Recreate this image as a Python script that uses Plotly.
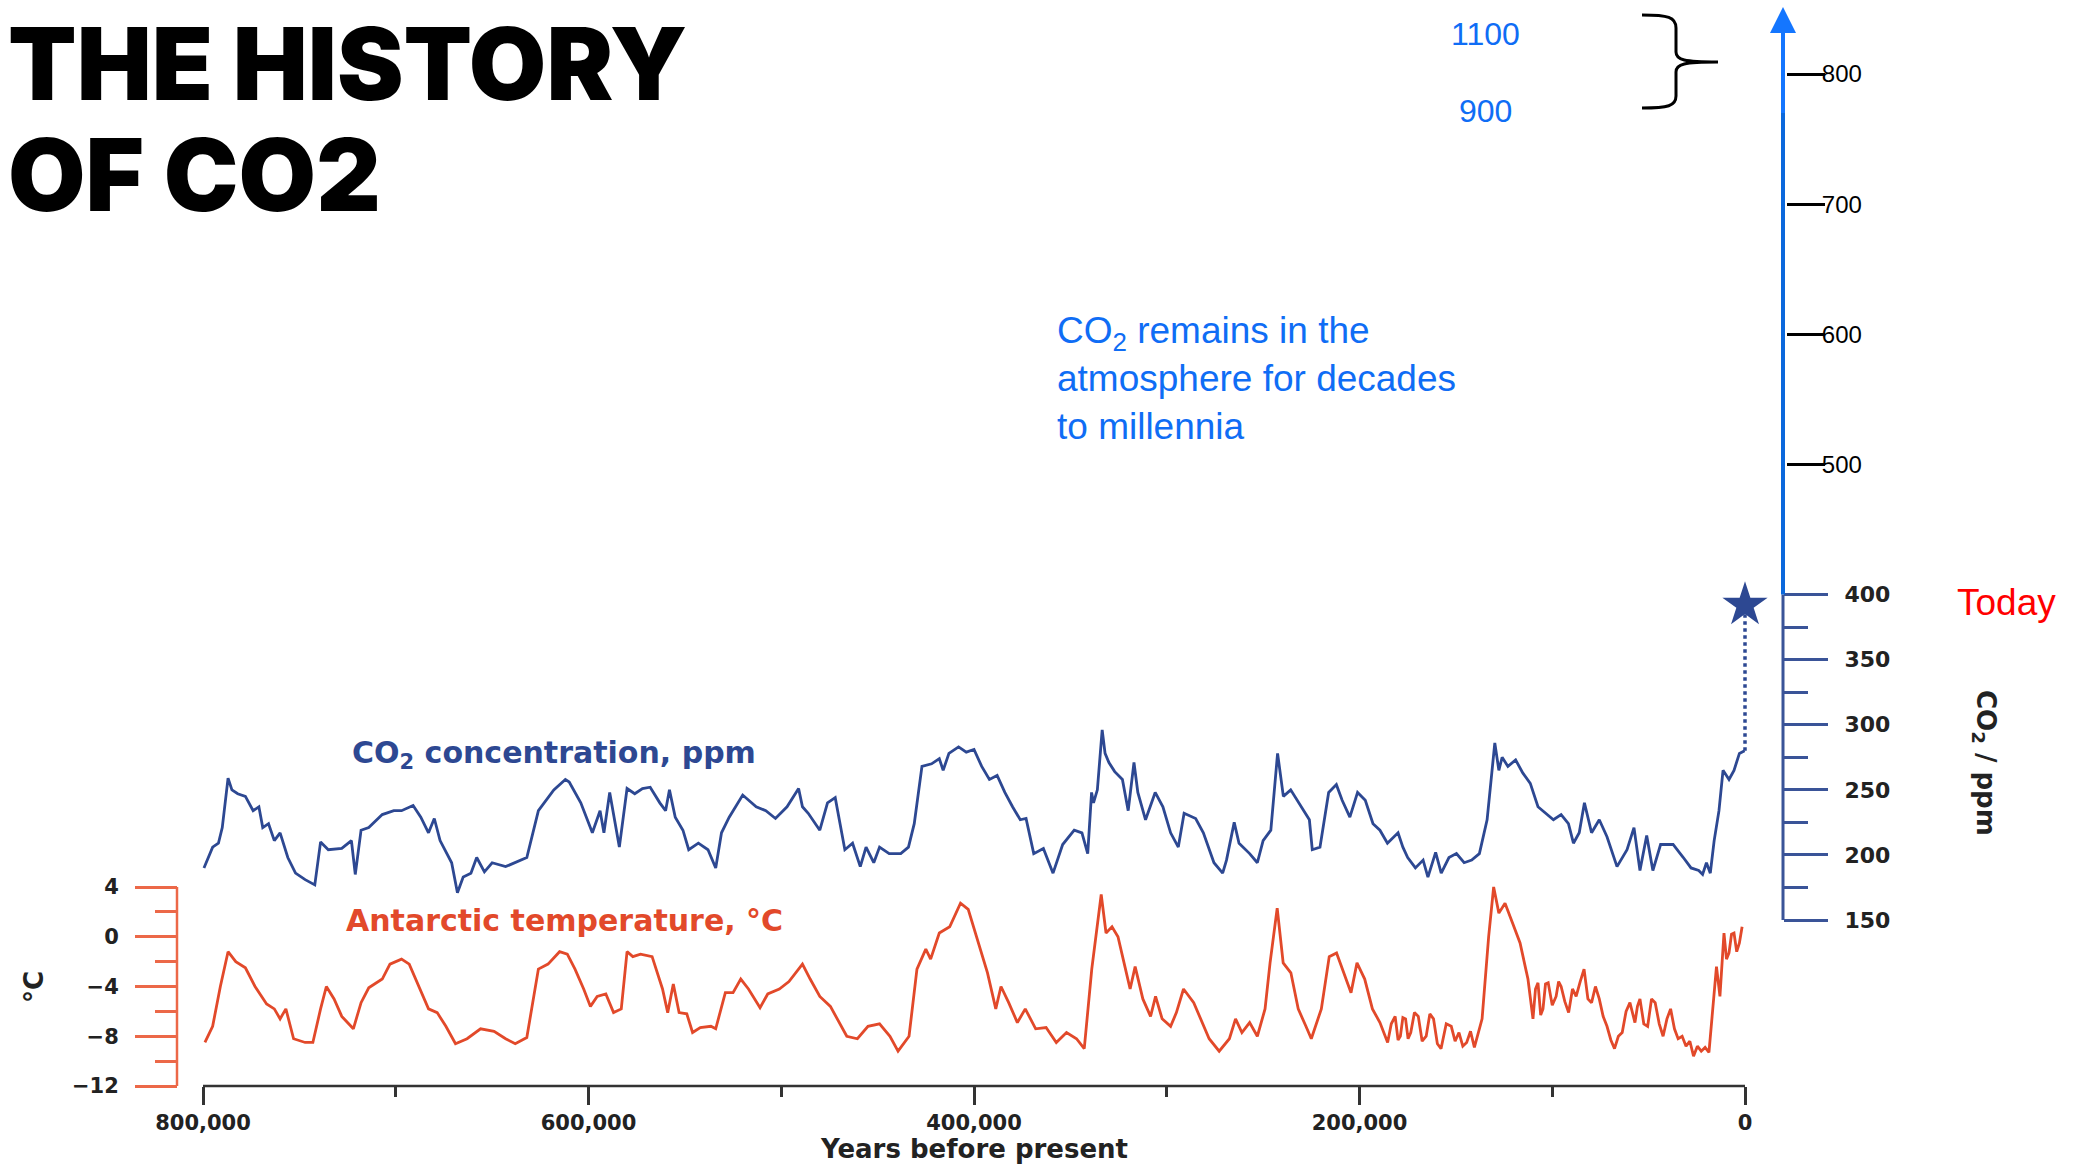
import plotly.graph_objects as go

W, H = 2078, 1164

# ---------------- data ----------------
co2_kyr = [799.5, 795, 792, 790, 787, 785, 782, 778, 774, 771, 769, 766, 763, 760, 756, 752, 747, 742,
           739, 735, 728, 723, 721, 718, 714, 707, 701, 697, 691, 687, 683, 680, 677, 671, 668, 665,
           661, 658, 654, 650, 643, 638, 632, 626, 618, 612, 610, 604, 598, 594, 592, 589, 584, 580,
           576, 572, 568, 563, 560, 558, 555, 551, 548, 543, 538, 534, 531, 527, 520, 513, 508, 503,
           497, 491, 489, 486, 480, 476, 472, 467, 463, 459, 456, 452, 449, 444, 438, 434, 431, 427,
           422, 418, 416, 413, 408, 404, 400, 396, 392, 388, 384, 380, 376, 373, 369, 364, 359, 354,
           348, 344, 341, 339, 338, 336, 333.5, 332, 330, 327, 323, 320, 317, 315, 311, 306, 302, 298,
           294, 291, 285, 281, 275.5, 271, 269, 265, 262.5, 257, 253, 250, 246, 242.5, 239.5, 235.7,
           230.3, 226, 224.5, 220.5, 216, 212, 209, 205, 201, 197, 193, 189.4, 185.5, 180, 177.5, 175,
           171, 167, 164.5, 160.5, 157.6, 153.6, 149.7, 145.7, 141.8, 137.8, 133.8, 131, 129.8, 127.7,
           126, 123, 119, 115.3, 111.4, 107.4, 103.4, 99.4, 95.4, 91.6, 89, 86, 83.3, 79.6, 75.6, 71.6,
           66.4, 61.2, 57.6, 54.5, 51, 47.8, 43.8, 37.3, 32, 28, 24, 22, 20, 18, 16, 13.5, 11.4, 8.3,
           5.7, 2.9, 0.2]
co2_ppm = [190, 206, 209, 221, 259, 250, 247, 245, 234, 237, 221, 224, 211, 217, 198, 186, 181, 177,
           210, 204, 205, 211, 185, 219, 221, 231, 234, 234, 238, 229, 217, 228, 211, 194, 171, 183,
           186, 198, 187, 194, 191, 194, 198, 234, 250, 258, 256, 240, 217, 234, 217, 248, 206, 251,
           247, 251, 252, 240, 234, 250, 229, 219, 204, 209, 204, 190, 217, 229, 246, 237, 234, 228,
           237, 251, 237, 232, 219, 240, 244, 204, 209, 191, 206, 194, 206, 201, 201, 206, 224, 268,
           270, 274, 265, 278, 283, 279, 281, 268, 258, 261, 248, 237, 227, 228, 201, 205, 186, 208,
           219, 217, 201, 248, 240, 250, 296, 278, 271, 264, 258, 234, 271, 248, 227, 248, 237, 217,
           206, 232, 228, 217, 194, 186, 196, 225, 209, 201, 194, 211, 219, 278, 245, 250,
           237, 227, 204, 206, 248, 254, 242, 229, 248, 242, 224, 219, 209, 217, 206, 198,
           190, 196, 183, 202, 186, 198, 201, 194, 196, 201, 227, 268, 286, 265,
           275, 268, 273, 263, 255, 237, 232, 227, 231, 224, 209, 217, 240, 217, 227, 214,
           191, 204, 221, 188, 215, 188, 208, 208, 198, 190, 188, 185, 194, 186, 211, 234, 265, 258,
           265, 278, 280]

temp_kyr = [799, 795, 791, 787, 783, 778, 773, 767, 763, 760, 757, 753, 747, 743, 739, 736, 732, 728,
            722, 718, 714, 707, 703, 697, 693, 688.5, 683, 678.5, 674, 669, 663, 656, 649, 643, 638,
            632, 626, 621, 615, 611, 607, 602.5, 599, 595.5, 591, 587, 583, 580, 577, 573, 567, 561.6,
            558.9, 556, 553, 549, 546, 542, 536.5, 534, 529, 525, 521, 517, 511, 507, 501, 496, 489,
            485, 480, 474.5, 470, 466, 460.5, 455, 449, 443.6, 439.4, 433.7, 429.6, 425, 422.5, 418,
            412.6, 407, 403, 398.6, 393, 388.7, 386, 382, 377.5, 373.4, 368, 362.6, 357.3, 352, 346.8,
            342.8, 338.9, 334, 331.5, 328.4, 325.3, 321.7, 319, 316.4, 312.4, 308.4, 305.8, 302.4, 298,
            295, 291.3, 286, 278, 272.8, 267.5, 264.3, 261, 257, 253, 249, 246.4, 242.7, 239.6, 235.6,
            231.8, 227.8, 225, 219.8, 215.7, 211.9, 208.7, 204.4, 201.3, 197.3, 193.3, 189.4, 185.4,
            183.5, 181.5, 180, 178.8, 177.5, 176.1, 174.8, 173.4, 171.5, 169.5, 167.5, 165.4, 163.5,
            161.6, 159.6, 157.7, 155, 152.4, 150.4, 148.4, 146.4, 144.4, 142.4, 140.4, 136.4,
            133, 130.4, 127.7, 124.5, 120.6, 116.7, 112.6, 110, 108.7, 107.4, 106, 104.8, 103.5, 102.1,
            100, 98, 96.7, 95.4, 93.5, 91.5, 89.5, 87.6, 85.5, 83.5, 81.5, 79.6, 77.6, 75.6, 73.6, 71.6,
            69.6, 67.7, 65.7, 63.7, 61.7, 59.7, 57.1, 55.8, 54.5, 52.5, 50.5, 48.5, 46.6, 44.5, 42.5,
            40.5, 38.6, 36.6, 34.7, 32.6, 30.6, 28.6, 26.7, 24.7, 22.7, 20.7, 18.7, 16.6, 14.8, 13,
            10.9, 9.6, 8.3, 7, 5.7, 4.3, 2.9, 1.5]
temp_c = [-8.5, -7.2, -4.0, -1.2, -2.0, -2.5, -4.0, -5.4, -5.8, -6.6, -5.8, -8.2, -8.5, -8.5, -5.8,
          -4.0, -5.0, -6.4, -7.4, -5.3, -4.1, -3.4, -2.2, -1.8, -2.2, -3.8, -5.8, -6.1, -7.2, -8.6,
          -8.2, -7.4, -7.6, -8.2, -8.6, -8.1, -2.6, -2.2, -1.2, -1.4, -2.6, -4.2, -5.6, -4.8, -4.6,
          -6.1, -5.8, -1.2, -1.6, -1.4, -1.6, -4.2, -6.1, -3.8, -6.1, -6.2, -7.7, -7.3, -7.2, -7.4,
          -4.5, -4.5, -3.4, -4.2, -5.7, -4.6, -4.2, -3.6, -2.2, -3.4, -4.8, -5.6, -6.9, -8.0, -8.2,
          -7.2, -7.0, -8.0, -9.2, -8.0, -2.6, -1.0, -1.8, 0.3, 0.8, 2.7, 2.2, 0.0, -2.9, -5.8, -4.0,
          -5.3, -6.9, -5.8, -7.4, -7.3, -8.5, -7.7, -8.2, -9.0, -2.6, 3.4, 0.3, 0.8, 0.0, -2.4, -4.2,
          -2.4, -5.0, -6.4, -4.8, -6.6, -7.2, -6.1, -4.2, -5.3, -8.2, -9.2, -8.2, -6.6, -7.7, -6.9,
          -8.0, -5.8, -2.1, 2.3, -2.1, -2.9, -5.8, -7.2, -8.2, -5.8, -1.6, -1.3, -2.6, -4.5, -2.1,
          -3.4, -5.8, -6.9, -8.5,
          -7.0, -6.4, -8.3, -8.0, -6.5, -6.6, -8.2, -7.7, -6.1, -6.4, -8.4, -8.0, -6.2,
          -6.6, -8.6, -9.0, -7.0, -7.2, -8.4, -7.7, -8.8, -8.5, -7.6, -8.9, -6.6,
          0.0, 4.0, 1.9, 2.7, 1.1, -0.5, -3.4, -6.6, -4.2, -3.7, -6.3, -5.8, -3.8, -3.7,
          -5.5, -4.8, -3.6, -4.0, -5.2, -6.1, -4.2, -4.8, -3.6, -2.6, -5.0, -5.3, -4.0, -5.0, -6.4, -7.2,
          -8.3, -9.0, -8.0, -7.7, -6.0, -5.3, -6.9, -5.6, -5.0, -7.0, -7.2, -5.0, -5.3, -7.0, -8.0,
          -6.6, -5.8, -7.4, -8.2, -8.0, -8.8, -8.4, -9.6, -8.8, -9.2, -8.9, -9.3, -5.8, -2.4, -4.8,
          0.3, -1.8, -1.3, 0.2, 0.3, -1.2, -0.5, 0.8]

x_tickvals = [800000, 600000, 400000, 200000, 0]
x_ticktext = ["800,000", "600,000", "400,000", "200,000", "0"]
x_minor = [700000, 500000, 300000, 100000]
co2_tickvals = [150, 200, 250, 300, 350, 400]
co2_minor = [175, 225, 275, 325, 375]
future_tickvals = [500, 600, 700, 800]
temp_tickvals = [4, 0, -4, -8, -12]
temp_minor = [2, -2, -6, -10]
today_co2 = 392
projection_high, projection_low = "1100", "900"

# ---------------- layout geometry (pixels) ----------------
X800_PX, X0_PX = 203, 1745
ppy = (X0_PX - X800_PX) / 800000.0
x_range = [800000 + X800_PX / ppy, -(W - X0_PX) / ppy]

T4_PX, TM12_PX = 887, 1086
ppd = (TM12_PX - T4_PX) / 16.0
t_range = [-12 - (H - TM12_PX) / ppd, 4 + T4_PX / ppd]

C150_PX, C800_PX = 920, 74
ppc = (C150_PX - C800_PX) / 650.0
c_range = [150 - (H - C150_PX) / ppc, 800 + C800_PX / ppc]

def px(x):
    return x / W

def py(y):
    return 1 - y / H

TEMP_AX_X = 177
CO2_AX_X = 1783
XAX_Y = 1086

NAVY = "#2d4892"
NAVY_AX = "#3a5498"
RED = "#e2492a"
RED_AX = "#ec6848"
BLUE = "#0f6df5"
BOLD = "DejaVu Sans"

fig = go.Figure()

fig.add_trace(go.Scatter(x=[k * 1000 for k in temp_kyr], y=temp_c, mode="lines",
                         line=dict(color=RED, width=2.8), xaxis="x", yaxis="y",
                         showlegend=False, hoverinfo="skip"))
fig.add_trace(go.Scatter(x=[k * 1000 for k in co2_kyr], y=co2_ppm, mode="lines",
                         line=dict(color=NAVY, width=2.8), xaxis="x", yaxis="y2",
                         showlegend=False, hoverinfo="skip"))
fig.add_trace(go.Scatter(x=[0, 0], y=[co2_ppm[-1], today_co2], mode="lines",
                         line=dict(color=NAVY, width=3.5, dash="dot"), xaxis="x", yaxis="y2",
                         showlegend=False, hoverinfo="skip"))
fig.add_trace(go.Scatter(x=[0], y=[today_co2], mode="markers",
                         marker=dict(symbol="star", size=34, color=NAVY, line=dict(width=0)),
                         xaxis="x", yaxis="y2", showlegend=False, hoverinfo="skip"))

shapes = []
shapes.append(dict(type="line", xref="x", yref="paper", x0=800000, x1=0, y0=py(XAX_Y), y1=py(XAX_Y),
                   line=dict(color="#333333", width=2.5)))
shapes.append(dict(type="line", xref="paper", yref="y", x0=px(TEMP_AX_X), x1=px(TEMP_AX_X), y0=-12, y1=4,
                   line=dict(color=RED_AX, width=2.5)))
shapes.append(dict(type="line", xref="paper", yref="y2", x0=px(CO2_AX_X), x1=px(CO2_AX_X), y0=150, y1=400,
                   line=dict(color=NAVY_AX, width=3)))
ARROW_MID = 150 + (C150_PX - 113) / ppc
TIP = 150 + (C150_PX - 7) / ppc
BASE = 150 + (C150_PX - 33) / ppc
shapes.append(dict(type="line", xref="paper", yref="y2", x0=px(CO2_AX_X), x1=px(CO2_AX_X), y0=400, y1=ARROW_MID,
                   line=dict(color="#0b68dc", width=4)))
shapes.append(dict(type="line", xref="paper", yref="y2", x0=px(CO2_AX_X), x1=px(CO2_AX_X), y0=ARROW_MID, y1=BASE,
                   line=dict(color="#1476ff", width=4)))
shapes.append(dict(type="path", xref="paper", yref="y2",
                   path=f"M {px(CO2_AX_X-13)} {BASE} L {px(CO2_AX_X)} {TIP} L {px(CO2_AX_X+13)} {BASE} Z",
                   fillcolor="#1476ff", line=dict(width=0)))
bpath = (f"M {px(1642)} {py(15)} C {px(1668)} {py(15)} {px(1676)} {py(17)} {px(1676)} {py(28)} "
         f"L {px(1676)} {py(52)} C {px(1676)} {py(60)} {px(1684)} {py(62)} {px(1718)} {py(62)} "
         f"M {px(1718)} {py(62)} C {px(1684)} {py(62)} {px(1676)} {py(64)} {px(1676)} {py(72)} "
         f"L {px(1676)} {py(96)} C {px(1676)} {py(106)} {px(1668)} {py(108)} {px(1642)} {py(108)}")
shapes.append(dict(type="path", xref="paper", yref="paper", path=bpath, line=dict(color="black", width=3)))

ann = []
def add_text(text, x, y, size, color, family="Liberation Sans", weight="normal", xanchor="center",
             yanchor="middle", angle=0, align="center"):
    ann.append(dict(text=text, x=px(x), y=py(y), xref="paper", yref="paper", showarrow=False,
                    xanchor=xanchor, yanchor=yanchor, textangle=angle, align=align,
                    font=dict(size=size, color=color, family=family, weight=weight)))

add_text("THE HISTORY", 6, 63, 100, "black", family="Inter", weight=900, xanchor="left")
add_text("OF CO2", 6, 174, 100, "black", family="Inter", weight=900, xanchor="left")
add_text(projection_high, 1485, 34, 32, BLUE)
add_text(projection_low, 1485, 111, 32, BLUE)
add_text("CO<sub>2</sub> remains in the<br>atmosphere for decades<br>to millennia", 1055, 379, 37, BLUE,
         xanchor="left", align="left")
add_text("Today", 2006, 602, 37, "#ff0000")
add_text("CO<sub>2</sub> concentration, ppm", 554, 754, 30, NAVY, family=BOLD, weight="bold")
add_text("Antarctic temperature, °C", 564, 920, 30, RED, family=BOLD, weight="bold")
add_text("°C", 34, 987, 26, "#222222", family=BOLD, weight="bold", angle=-90)
add_text("CO<sub>2</sub> / ppm", 1985, 763, 26, "#222222", family=BOLD, weight="bold", angle=90)
add_text("Years before present", 974, 1149, 26, "#222222", family=BOLD, weight="bold")

fig.update_layout(
    width=W, height=H,
    margin=dict(l=0, r=0, t=0, b=0),
    paper_bgcolor="white", plot_bgcolor="rgba(0,0,0,0)",
    showlegend=False,
    shapes=shapes, annotations=ann,
    xaxis=dict(domain=[0, 1], range=x_range, anchor="free", position=py(XAX_Y), side="bottom",
               showgrid=False, zeroline=False, showline=False,
               tickmode="array", tickvals=x_tickvals, ticktext=x_ticktext,
               ticks="outside", ticklen=18, tickwidth=3, tickcolor="#333333",
               ticklabelstandoff=0,
               tickfont=dict(family=BOLD, size=21, color="#222222", weight="bold"),
               minor=dict(tickmode="array", tickvals=x_minor, ticks="outside", ticklen=10,
                          tickwidth=3, tickcolor="#333333", showgrid=False)),
    yaxis=dict(domain=[0, 1], range=t_range, anchor="free", position=px(TEMP_AX_X), side="left",
               showgrid=False, zeroline=False, showline=False,
               tickmode="array", tickvals=temp_tickvals,
               ticks="outside", ticklen=42, tickwidth=2.5, tickcolor=RED_AX,
               ticklabelstandoff=12,
               tickfont=dict(family=BOLD, size=21, color="#222222", weight="bold"),
               minor=dict(tickmode="array", tickvals=temp_minor, ticks="outside", ticklen=22,
                          tickwidth=2.5, tickcolor=RED_AX, showgrid=False)),
    yaxis2=dict(domain=[0, 1], range=c_range, overlaying="y", anchor="free", position=px(CO2_AX_X),
                side="right", showgrid=False, zeroline=False, showline=False,
                tickmode="array", tickvals=co2_tickvals,
                ticks="outside", ticklen=44, tickwidth=2.5, tickcolor=NAVY_AX,
                ticklabelstandoff=12,
                tickfont=dict(family=BOLD, size=22, color="#222222", weight="bold"),
                minor=dict(tickmode="array", tickvals=co2_minor, ticks="outside", ticklen=24,
                           tickwidth=2.5, tickcolor=NAVY_AX, showgrid=False)),
    yaxis3=dict(domain=[0, 1], range=c_range, overlaying="y", anchor="free", position=px(CO2_AX_X + 3),
                side="right", showgrid=False, zeroline=False, showline=False,
                tickmode="array", tickvals=future_tickvals,
                ticks="outside", ticklen=38, tickwidth=2.5, tickcolor="black",
                ticklabelstandoff=-8,
                tickfont=dict(family="Liberation Sans", size=24, color="black")),
)
fig.add_trace(go.Scatter(x=[None], y=[None], xaxis="x", yaxis="y3", showlegend=False, hoverinfo="skip"))

fig.write_html("out.html", config={"displayModeBar": False},
               post_script="document.body.style.margin='0';")
